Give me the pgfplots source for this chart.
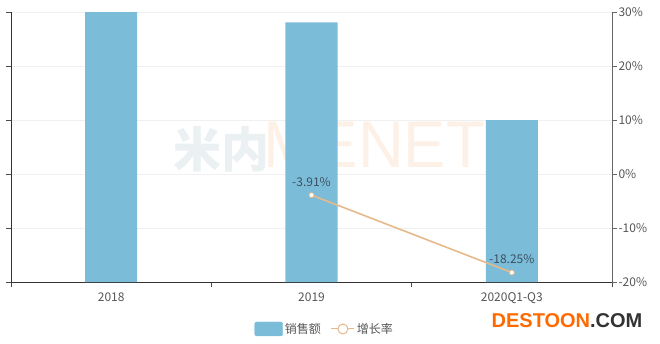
\documentclass[border=0pt]{standalone}
\usepackage{pgfplots}
\pgfplotsset{compat=1.18}
\usepackage{fontspec}
\setmainfont{Noto Sans CJK SC}
\newfontfamily\lib{Liberation Sans}
\definecolor{barc}{HTML}{7BBCD9}
\definecolor{linec}{HTML}{E6B98A}
\definecolor{tickc}{HTML}{555555}
\definecolor{lblc}{HTML}{3E5060}
\definecolor{gridc}{HTML}{F0F0F0}
\definecolor{wmblue}{HTML}{EBF0F3}
\definecolor{wmorange}{HTML}{FDF1E7}
\definecolor{destor}{HTML}{FF6A00}
\begin{document}
\begin{tikzpicture}
\useasboundingbox (-11pt,-61pt) rectangle (649pt,282pt);
% faint watermark
\node[anchor=base west, inner sep=0, text depth=0pt, text=wmblue, font=\fontsize{48}{48}\selectfont\bfseries] at (162pt,114pt) {米内};
\node[anchor=base west, inner sep=0, text depth=0pt, text=wmorange, font=\lib\fontsize{66}{66}\selectfont, xscale=0.96] at (252pt,114pt) {MENET};
\begin{axis}[
  at={(0,0)}, anchor=south west, scale only axis,
  width=601pt, height=270pt,
  xmin=-0.5, xmax=2.5, ymin=0, ymax=5,
  axis y line*=left, axis x line*=bottom,
  axis line style={draw=black!80, line width=0.8pt},
  xtick={0,1,2}, xticklabels={2018,2019,2020Q1-Q3},
  minor xtick={-0.5,0.5,1.5,2.5},
  major x tick style={draw=none},
  minor x tick style={draw=black!70, line width=0.8pt},
  minor tick length=5pt,
  ytick={0,1,2,3,4,5}, yticklabels={},
  y tick style={draw=black!70, line width=0.8pt},
  major tick length=5pt, tick align=outside,
  ymajorgrids, grid style={gridc, line width=0.6pt},
  ticklabel style={text=tickc, font=\fontsize{12}{14}\selectfont},
  xticklabel style={yshift=-2pt},
]
\addplot[ybar, bar width=0.26, fill=barc, draw=none] coordinates {(0,5) (1,4.81) (2,3.0)};
\end{axis}
\begin{axis}[
  at={(0,0)}, anchor=south west, scale only axis,
  width=601pt, height=270pt,
  xmin=-0.5, xmax=2.5, ymin=-20, ymax=30,
  axis y line*=right, axis x line=none,
  axis line style={draw=black!60, line width=0.8pt},
  ytick={-20,-10,0,10,20,30},
  yticklabel={\pgfmathprintnumber{\tick}\%},
  /pgf/number format/assume math mode=true,
  y tick style={draw=black!60, line width=0.8pt},
  major tick length=5pt, tick align=outside,
  ticklabel style={text=tickc, font=\fontsize{12}{14}\selectfont},
  yticklabel style={xshift=-2pt},
  legend style={at={(0.522,-0.174)}, anchor=center, draw=none, fill=none,
    legend columns=2, font=\fontsize{12}{14}\selectfont, text=tickc,
    /tikz/every even column/.append style={column sep=8pt},
    cells={anchor=west}},
]
\addlegendimage{legend image code/.code={\fill[barc, rounded corners=2pt] (0pt,-7pt) rectangle (28pt,7pt);}}
\addlegendentry{销售额}
\addplot[linec, line width=1.6pt, mark=*, mark size=2.5pt,
  mark options={fill=white, draw=linec, line width=0.8pt},
  nodes near coords={\pgfmathprintnumber[fixed, precision=2, fixed zerofill]{\pgfplotspointmeta}\%},
  every node near coord/.append style={text=lblc, font=\fontsize{12}{14}\selectfont, anchor=south, inner sep=0pt, yshift=8pt},
  legend image code/.code={\draw[linec, line width=1pt] (0pt,0pt)--(23pt,0pt); \draw[linec, fill=white, line width=1pt] (11.5pt,0pt) circle (5pt);}
] coordinates {(1,-3.91) (2,-18.25)};
\addlegendentry{增长率}
\end{axis}
\node[anchor=base, inner sep=0, font=\lib\fontsize{20}{20}\selectfont\bfseries] at (556pt,-45pt) {\textcolor{destor}{DESTOON}\textcolor{black!80}{.COM}};
\end{tikzpicture}
\end{document}
